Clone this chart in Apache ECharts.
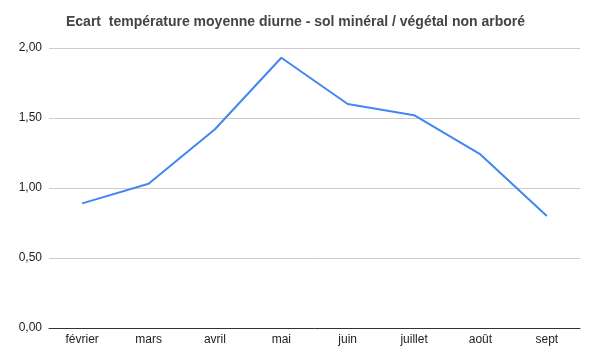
<!DOCTYPE html>
<html>
<head>
<meta charset="utf-8">
<script src="https://cdn.jsdelivr.net/npm/echarts@6/dist/echarts.min.js"></script>
<style>html,body{margin:0;padding:0;background:#fff}#c{width:599px;height:360px}</style>
</head>
<body>
<div id="c"></div>
<script>
var categories = ['février','mars','avril','mai','juin','juillet','août','sept'];
var values = [0.89, 1.03, 1.42, 1.93, 1.60, 1.52, 1.24, 0.80];
var yTicks = [0, 0.5, 1, 1.5, 2];
var title = 'Ecart  température moyenne diurne - sol minéral / végétal non arboré';

var chart = echarts.init(document.getElementById('c'));
chart.setOption({
  animation: false,
  title: {
    text: title,
    left: 66, top: 15, padding: 0,
    textStyle: {fontFamily: 'Liberation Sans, Arial, sans-serif', fontSize: 14, fontWeight: 'bold', color: '#444'}
  },
  grid: {left: 49, right: 19, top: 48, bottom: 32, containLabel: false},
  xAxis: {
    type: 'category',
    data: categories,
    boundaryGap: true,
    axisLine: {lineStyle: {color: '#333', width: 1}},
    axisTick: {show: false},
    axisLabel: {color: '#222', fontSize: 12, fontFamily: 'Liberation Sans, Arial, sans-serif', margin: 6}
  },
  yAxis: {
    type: 'value',
    min: yTicks[0], max: yTicks[yTicks.length-1], interval: 0.5,
    axisLine: {show: false},
    axisTick: {show: false},
    splitLine: {lineStyle: {color: '#ccc', width: 1}},
    axisLabel: {
      color: '#222', fontSize: 12, fontFamily: 'Liberation Sans, Arial, sans-serif', margin: 7,
      formatter: function(v){ return v.toFixed(2).replace('.', ','); }
    }
  },
  series: [{
    type: 'line',
    data: values,
    symbol: 'none',
    lineStyle: {color: '#4285F4', width: 2},
    itemStyle: {color: '#4285F4'}
  }]
});
</script>
</body>
</html>
